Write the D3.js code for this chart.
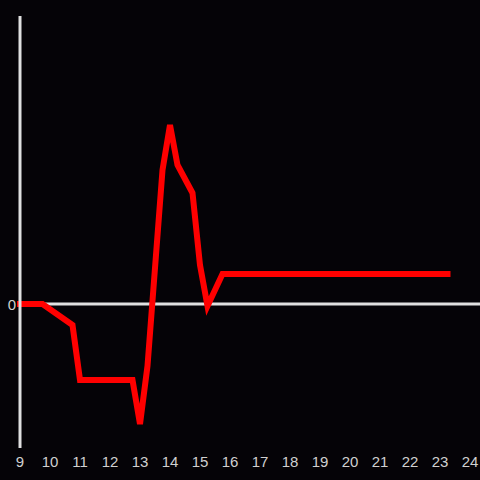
<!DOCTYPE html>
<html>
<head>
<meta charset="utf-8">
<script src="https://cdn.jsdelivr.net/npm/d3@7"></script>
<style>
  html, body { margin: 0; padding: 0; background: #050307; }
  svg { display: block; }
</style>
</head>
<body>
<div id="chart"></div>
<script>
// Hour of day and value
const hours = [9, 9.75, 10.75, 11, 12.75, 13, 13.25, 13.75, 14, 14.25, 14.75, 15, 15.25, 15.75, 23.25];
const values = [0, 0, -2.1, -7.6, -7.6, -12.0, -6.2, 13.4, 17.9, 13.9, 11.1, 3.9, -0.2, 3, 3];
const xTicks = [9, 10, 11, 12, 13, 14, 15, 16, 17, 18, 19, 20, 21, 22, 23, 24];
const yTicks = [0];

const width = 480;
const height = 480;

const svg = d3.select('#chart')
    .append('svg')
    .attr('width', width)
    .attr('height', height);

svg.append('rect')
    .attr('width', width)
    .attr('height', height)
    .attr('fill', '#050307');

// Scales
const x = d3.scaleLinear().domain([9, 24]).range([20, 470]);
const y = d3.scaleLinear().domain([-14.4, 28.8]).range([448, 16]);

const axisColor = '#e0e0e0';
const labelColor = '#d0d0d0';

// Zero line
svg.append('line')
    .attr('x1', x(9))
    .attr('x2', width)
    .attr('y1', y(0))
    .attr('y2', y(0))
    .style('stroke', axisColor)
    .style('stroke-width', 3);

// Data line
const points = hours.map((h, i) => ({ h, v: values[i] }));
const line = d3.line()
    .x(d => x(d.h))
    .y(d => y(d.v));

svg.append('path')
    .datum(points)
    .attr('d', line)
    .style('fill', 'none')
    .style('stroke', '#ff0000')
    .style('stroke-width', 6)
    .style('stroke-linecap', 'square')
    .style('stroke-linejoin', 'miter');

// Y axis line
svg.append('line')
    .attr('x1', x(9))
    .attr('x2', x(9))
    .attr('y1', y(28.8))
    .attr('y2', y(-14.4))
    .style('stroke', axisColor)
    .style('stroke-width', 3);

// X tick labels
svg.append('g')
    .selectAll('text')
    .data(xTicks)
    .enter()
    .append('text')
    .attr('x', d => x(d))
    .attr('y', 467)
    .text(d => d)
    .style('font-family', '"Liberation Sans", Arial, sans-serif')
    .style('font-size', '15px')
    .style('fill', labelColor)
    .style('text-anchor', 'middle');

// Y tick labels
svg.append('g')
    .selectAll('text')
    .data(yTicks)
    .enter()
    .append('text')
    .attr('x', 16)
    .attr('y', d => y(d) + 5.5)
    .text(d => d)
    .style('font-family', '"Liberation Sans", Arial, sans-serif')
    .style('font-size', '15px')
    .style('fill', labelColor)
    .style('text-anchor', 'end');
</script>
</body>
</html>
